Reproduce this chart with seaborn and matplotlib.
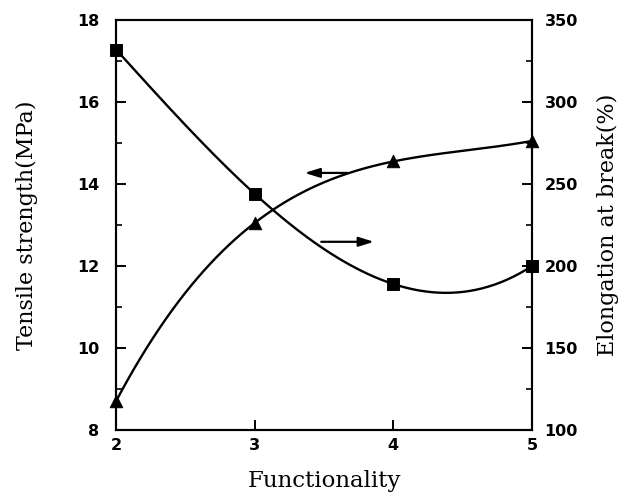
import numpy as np
import pandas as pd
import matplotlib
matplotlib.use("Agg")
import matplotlib.pyplot as plt
from matplotlib.ticker import MultipleLocator
from matplotlib.font_manager import FontProperties
import seaborn as sns

# Measured data
functionality = [2, 3, 4, 5]
tensile_strength = [8.7, 13.05, 14.55, 15.05]      # MPa (left axis)
elongation = [332, 244, 189, 200]                    # % (right axis)


def smooth_curve(x, y, n=200):
    """Cubic passing exactly through the four measured points."""
    coef = np.polyfit(x, y, len(x) - 1)
    xs = np.linspace(min(x), max(x), n)
    return xs, np.polyval(coef, xs)


sns.set_style("ticks")
plt.rcParams["font.family"] = ["DejaVu Sans"]
plt.rcParams["text.color"] = "black"
plt.rcParams["axes.labelcolor"] = "black"

fig = plt.figure(figsize=(6.42, 4.96), dpi=100)
ax = fig.add_axes([0.1807, 0.1331, 0.648, 0.8266])
ax2 = ax.twinx()

# Tensile strength: smooth curve + triangles
xs, ys = smooth_curve(functionality, tensile_strength)
sns.lineplot(x=xs, y=ys, ax=ax, color="black", linewidth=1.7, sort=False)
sns.scatterplot(x=functionality, y=tensile_strength, ax=ax, marker="^",
                s=80, color="black", edgecolor="black", zorder=5, clip_on=False)

# Elongation: smooth curve + squares
xs2, ys2 = smooth_curve(functionality, elongation)
sns.lineplot(x=xs2, y=ys2, ax=ax2, color="black", linewidth=1.7, sort=False)
sns.scatterplot(x=functionality, y=elongation, ax=ax2, marker="s",
                s=70, color="black", edgecolor="black", zorder=5, clip_on=False)

ax.set_xlim(2, 5)
ax.set_ylim(8, 18)
ax2.set_ylim(100, 350)

ax.xaxis.set_major_locator(MultipleLocator(1))
ax.yaxis.set_major_locator(MultipleLocator(2))
ax.yaxis.set_minor_locator(MultipleLocator(1))
ax2.yaxis.set_major_locator(MultipleLocator(50))
ax2.yaxis.set_minor_locator(MultipleLocator(25))

tick_font = FontProperties(family="DejaVu Sans", weight="bold", size=11.5)
for a in (ax, ax2):
    for sp in a.spines.values():
        sp.set_visible(True)
        sp.set_linewidth(1.5)
        sp.set_color("black")
    a.tick_params(which="major", direction="in", length=7, width=1.4,
                  colors="black", labelcolor="black")
    a.tick_params(which="minor", direction="in", length=4.5, width=1.2, colors="black")

ax.tick_params(axis="x", pad=6)
ax.tick_params(axis="y", pad=12)
ax2.tick_params(axis="y", pad=9)
for lbl in ax.get_xticklabels() + ax.get_yticklabels() + ax2.get_yticklabels():
    lbl.set_fontproperties(tick_font)

label_font = dict(family="DejaVu Serif", size=16, color="black")
ax.set_xlabel("Functionality", labelpad=12, family="DejaVu Serif", size=16.5, color="black")
ax.set_ylabel("Tensile strength(MPa)", labelpad=28, **label_font)
ax2.set_ylabel("Elongation at break(%)", labelpad=14, **label_font)

# Arrows pointing each curve to its axis
arrow_kw = dict(arrowstyle="-|>,head_length=0.9,head_width=0.28", color="black", lw=1.6)
ax.annotate("", xy=(3.34, 14.27), xytext=(3.69, 14.27), arrowprops=arrow_kw)
ax.annotate("", xy=(3.88, 12.59), xytext=(3.46, 12.59), arrowprops=arrow_kw)

fig.savefig("out.png", dpi=100)
